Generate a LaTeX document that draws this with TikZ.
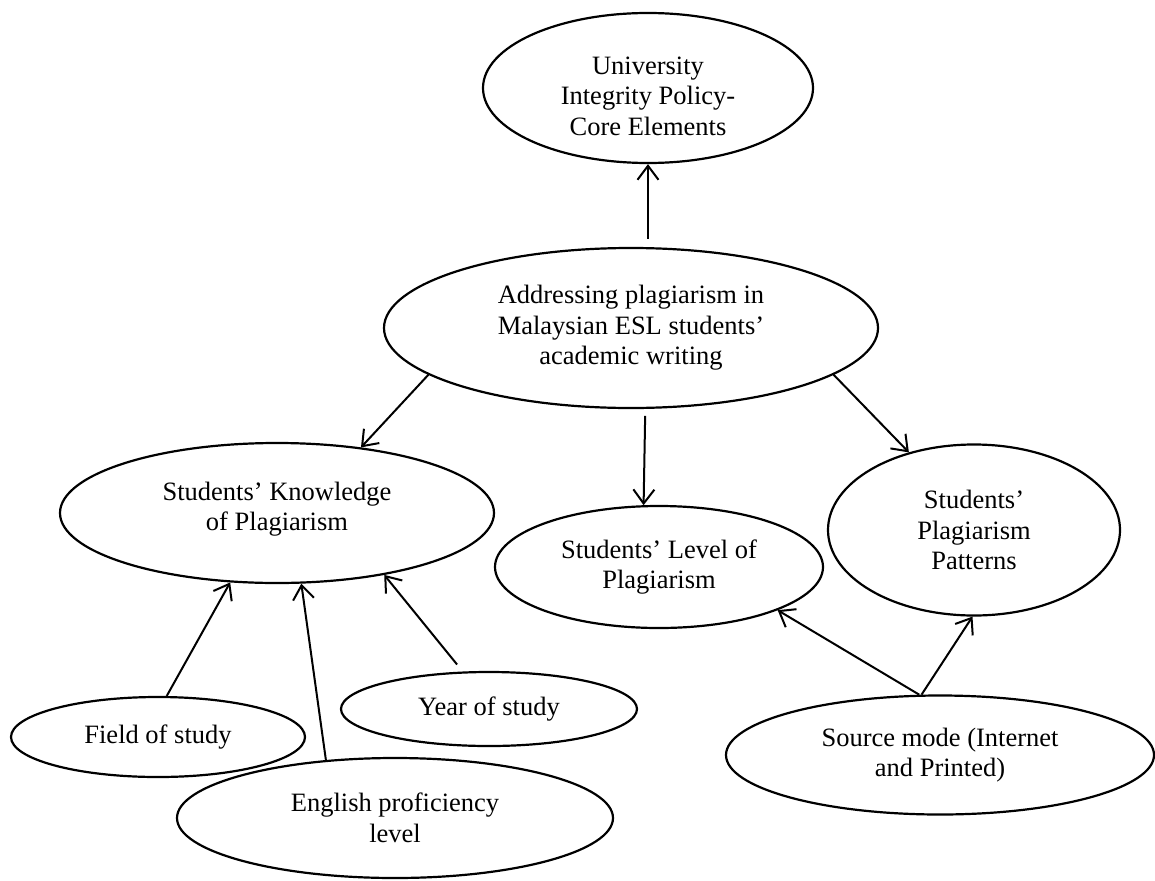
\documentclass[tikz,border=0pt]{standalone}
\usepackage{fontspec}
\setmainfont{Liberation Serif}
\usetikzlibrary{shapes.geometric,arrows.meta}
\tikzset{
  txt/.style={align=center,inner sep=0pt,font=\fontsize{26.5}{30.5}\selectfont},
  oval/.style={ellipse,draw=black,line width=2.2pt,fill=white,inner sep=0pt,txt},
  arr/.style={line width=2pt,-{Straight Barb[length=14pt,width=21pt,line width=2pt]}}
}
\begin{document}
\begin{tikzpicture}[x=1pt,y=-1pt]
\useasboundingbox (0,0) rectangle (1155,880);
\fill[white] (0,0) rectangle (1155,880);

\node[oval,minimum width=330pt,minimum height=150pt,
  label={[txt,name=toptxt,yshift=-8pt]center:{University\\Integrity Policy-\\Core Elements}}] (top) at (648,88) {};
\node[oval,minimum width=494pt,minimum height=160pt] (c) at (631,328)
  {Addressing plagiarism in\\Malaysian ESL students’\\academic writing};
\node[oval,minimum width=434pt,minimum height=140pt,
  label={[txt,name=knowtxt,yshift=4pt]center:{Students’ Knowledge\\of Plagiarism}}] (know) at (277,513) {};
\node[oval,minimum width=328pt,minimum height=122pt] (level) at (659,567)
  {Students’ Level of\\Plagiarism};
\node[oval,minimum width=292pt,minimum height=171pt] (pat) at (974,530)
  {Students’\\Plagiarism\\Patterns};
\node[oval,minimum width=294pt,minimum height=80pt] (field) at (158,737)
  {Field of study};
\node[oval,minimum width=296pt,minimum height=74pt] (year) at (489,709)
  {Year of study};
\node[oval,minimum width=436pt,minimum height=120pt] (eng) at (395,818)
  {English proficiency\\level};
\node[oval,minimum width=428pt,minimum height=119pt] (src) at (940,755)
  {Source mode (Internet\\and Printed)};

\draw[arr,shorten <=8pt] (top.south |- c.north) -- (top.south);
\draw[arr] (c.193) -- (know.38);
\draw[arr,shorten <=7pt] (c.280) -- (level.104);
\draw[arr] (c.347) -- (pat.130);
\draw[arr] (field.78) -- (know.236);
\draw[arr] (eng.140) -- (know.289);
\draw[arr,shorten <=9pt] (year.125) -- (know.330);
\draw[arr] (src.109) -- (level.340);
\draw[arr] (src.107) -- (pat.269);
\end{tikzpicture}
\end{document}
